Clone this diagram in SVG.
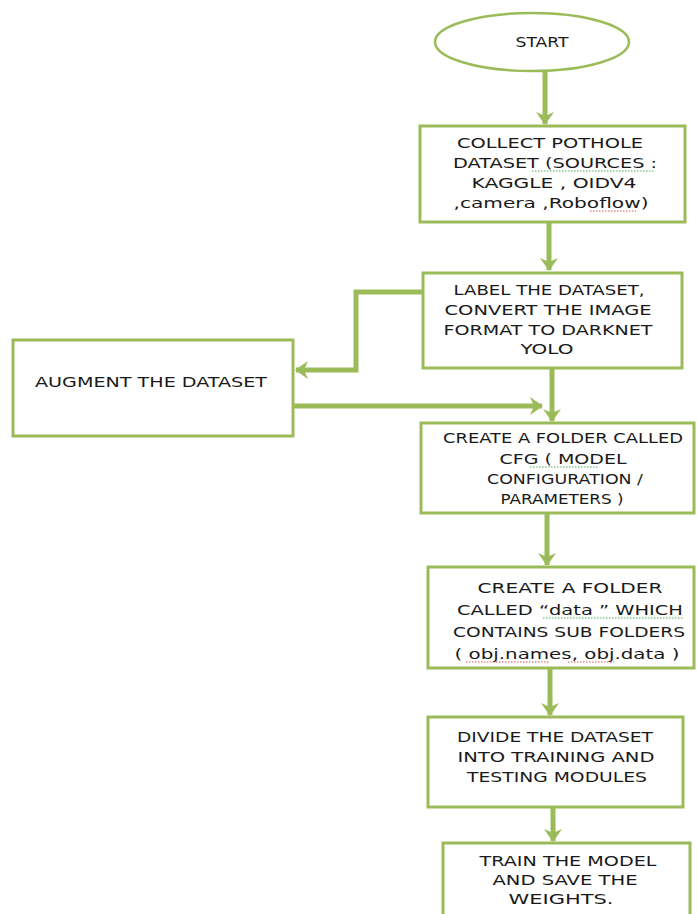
<svg xmlns="http://www.w3.org/2000/svg" width="697" height="914" viewBox="0 0 697 914">
<style>
.box{fill:#ffffff;stroke:#9bbb59;stroke-width:3}
.t{font-family:"DejaVu Sans","Liberation Sans",sans-serif;font-size:14px;fill:#1a1a1a;text-anchor:middle}
.c{fill:none;stroke:#9bbb59;stroke-width:5}
.sq{fill:none;stroke-width:1;stroke-dasharray:1.5 1.5}
</style>
<defs>
<marker id="ah" markerUnits="userSpaceOnUse" markerWidth="22" markerHeight="22" refX="14" refY="10" orient="auto">
<path d="M2,1 L15,10 L2,19 L6,10 Z" fill="#9bbb59"/>
</marker>
</defs>
<rect width="697" height="914" fill="#ffffff"/>
<g id="connectors">
<path class="c" d="M545,71 V124" marker-end="url(#ah)"/>
<path class="c" d="M549,222 V270" marker-end="url(#ah)"/>
<path class="c" d="M423,292 H356 V370 H296" marker-end="url(#ah)"/>
<path class="c" d="M292,406 H542" marker-end="url(#ah)"/>
<path class="c" d="M552,368 V421" marker-end="url(#ah)"/>
<path class="c" d="M547,513 V565" marker-end="url(#ah)"/>
<path class="c" d="M550,668 V715" marker-end="url(#ah)"/>
<path class="c" d="M553,807 V841" marker-end="url(#ah)"/>
</g>
<g id="start">
<ellipse cx="532" cy="42" rx="97" ry="29" fill="#ffffff" stroke="#9bbb59" stroke-width="2.5"/>
<text class="t" x="542" y="47" textLength="53" lengthAdjust="spacingAndGlyphs">START</text>
</g>
<g id="collect">
<rect class="box" x="420" y="126" width="265" height="96"/>
<text class="t" x="550" y="148" textLength="186" lengthAdjust="spacingAndGlyphs">COLLECT   POTHOLE</text>
<text class="t" x="555" y="168" textLength="204" lengthAdjust="spacingAndGlyphs">DATASET (SOURCES :</text>
<text class="t" x="554" y="188" textLength="165" lengthAdjust="spacingAndGlyphs">KAGGLE , OIDV4</text>
<text class="t" x="551" y="208" textLength="195" lengthAdjust="spacingAndGlyphs">,camera ,Roboflow)</text>
<path class="sq" stroke="#4caf50" d="M532,171 H654"/>
<path class="sq" stroke="#d9534f" d="M590,211 H636"/>
</g>
<g id="label">
<rect class="box" x="423" y="273" width="259" height="95"/>
<text class="t" x="549" y="295" textLength="191" lengthAdjust="spacingAndGlyphs">LABEL THE DATASET,</text>
<text class="t" x="548" y="315" textLength="207" lengthAdjust="spacingAndGlyphs">CONVERT THE IMAGE</text>
<text class="t" x="548" y="335" textLength="209" lengthAdjust="spacingAndGlyphs">FORMAT TO DARKNET</text>
<text class="t" x="547" y="354" textLength="53" lengthAdjust="spacingAndGlyphs">YOLO</text>
</g>
<g id="augment">
<rect class="box" x="13" y="340" width="280" height="96"/>
<text class="t" x="151" y="387" textLength="232" lengthAdjust="spacingAndGlyphs">AUGMENT THE DATASET</text>
</g>
<g id="cfg">
<rect class="box" x="421" y="423" width="273" height="90"/>
<text class="t" x="563" y="443" textLength="240" lengthAdjust="spacingAndGlyphs">CREATE A FOLDER CALLED</text>
<text class="t" x="563" y="464" textLength="127" lengthAdjust="spacingAndGlyphs">CFG ( MODEL</text>
<text class="t" x="565" y="484" textLength="156" lengthAdjust="spacingAndGlyphs">CONFIGURATION /</text>
<text class="t" x="562" y="504" textLength="123" lengthAdjust="spacingAndGlyphs">PARAMETERS )</text>
<path class="sq" stroke="#4caf50" d="M530,467 H598"/>
</g>
<g id="data">
<rect class="box" x="428" y="567" width="266" height="101"/>
<text class="t" x="570" y="593" textLength="185" lengthAdjust="spacingAndGlyphs">CREATE A FOLDER</text>
<text class="t" x="570" y="615" textLength="226" lengthAdjust="spacingAndGlyphs">CALLED “data ” WHICH</text>
<text class="t" x="569" y="637" textLength="232" lengthAdjust="spacingAndGlyphs">CONTAINS SUB FOLDERS</text>
<text class="t" x="567" y="659" textLength="225" lengthAdjust="spacingAndGlyphs">( obj.names, obj.data )</text>
<path class="sq" stroke="#4caf50" d="M543,618 H683"/>
<path class="sq" stroke="#d9534f" d="M466,662 H550 M568,662 H614"/>
</g>
<g id="divide">
<rect class="box" x="428" y="717" width="255" height="90"/>
<text class="t" x="555" y="742" textLength="196" lengthAdjust="spacingAndGlyphs">DIVIDE THE DATASET</text>
<text class="t" x="556" y="762" textLength="197" lengthAdjust="spacingAndGlyphs">INTO TRAINING AND</text>
<text class="t" x="557" y="782" textLength="180" lengthAdjust="spacingAndGlyphs">TESTING MODULES</text>
</g>
<g id="train">
<rect class="box" x="443" y="843" width="247" height="80"/>
<text class="t" x="568" y="866" textLength="177" lengthAdjust="spacingAndGlyphs">TRAIN THE MODEL</text>
<text class="t" x="565" y="885" textLength="145" lengthAdjust="spacingAndGlyphs">AND SAVE THE</text>
<text class="t" x="561" y="904" textLength="105" lengthAdjust="spacingAndGlyphs">WEIGHTS.</text>
</g>
</svg>
